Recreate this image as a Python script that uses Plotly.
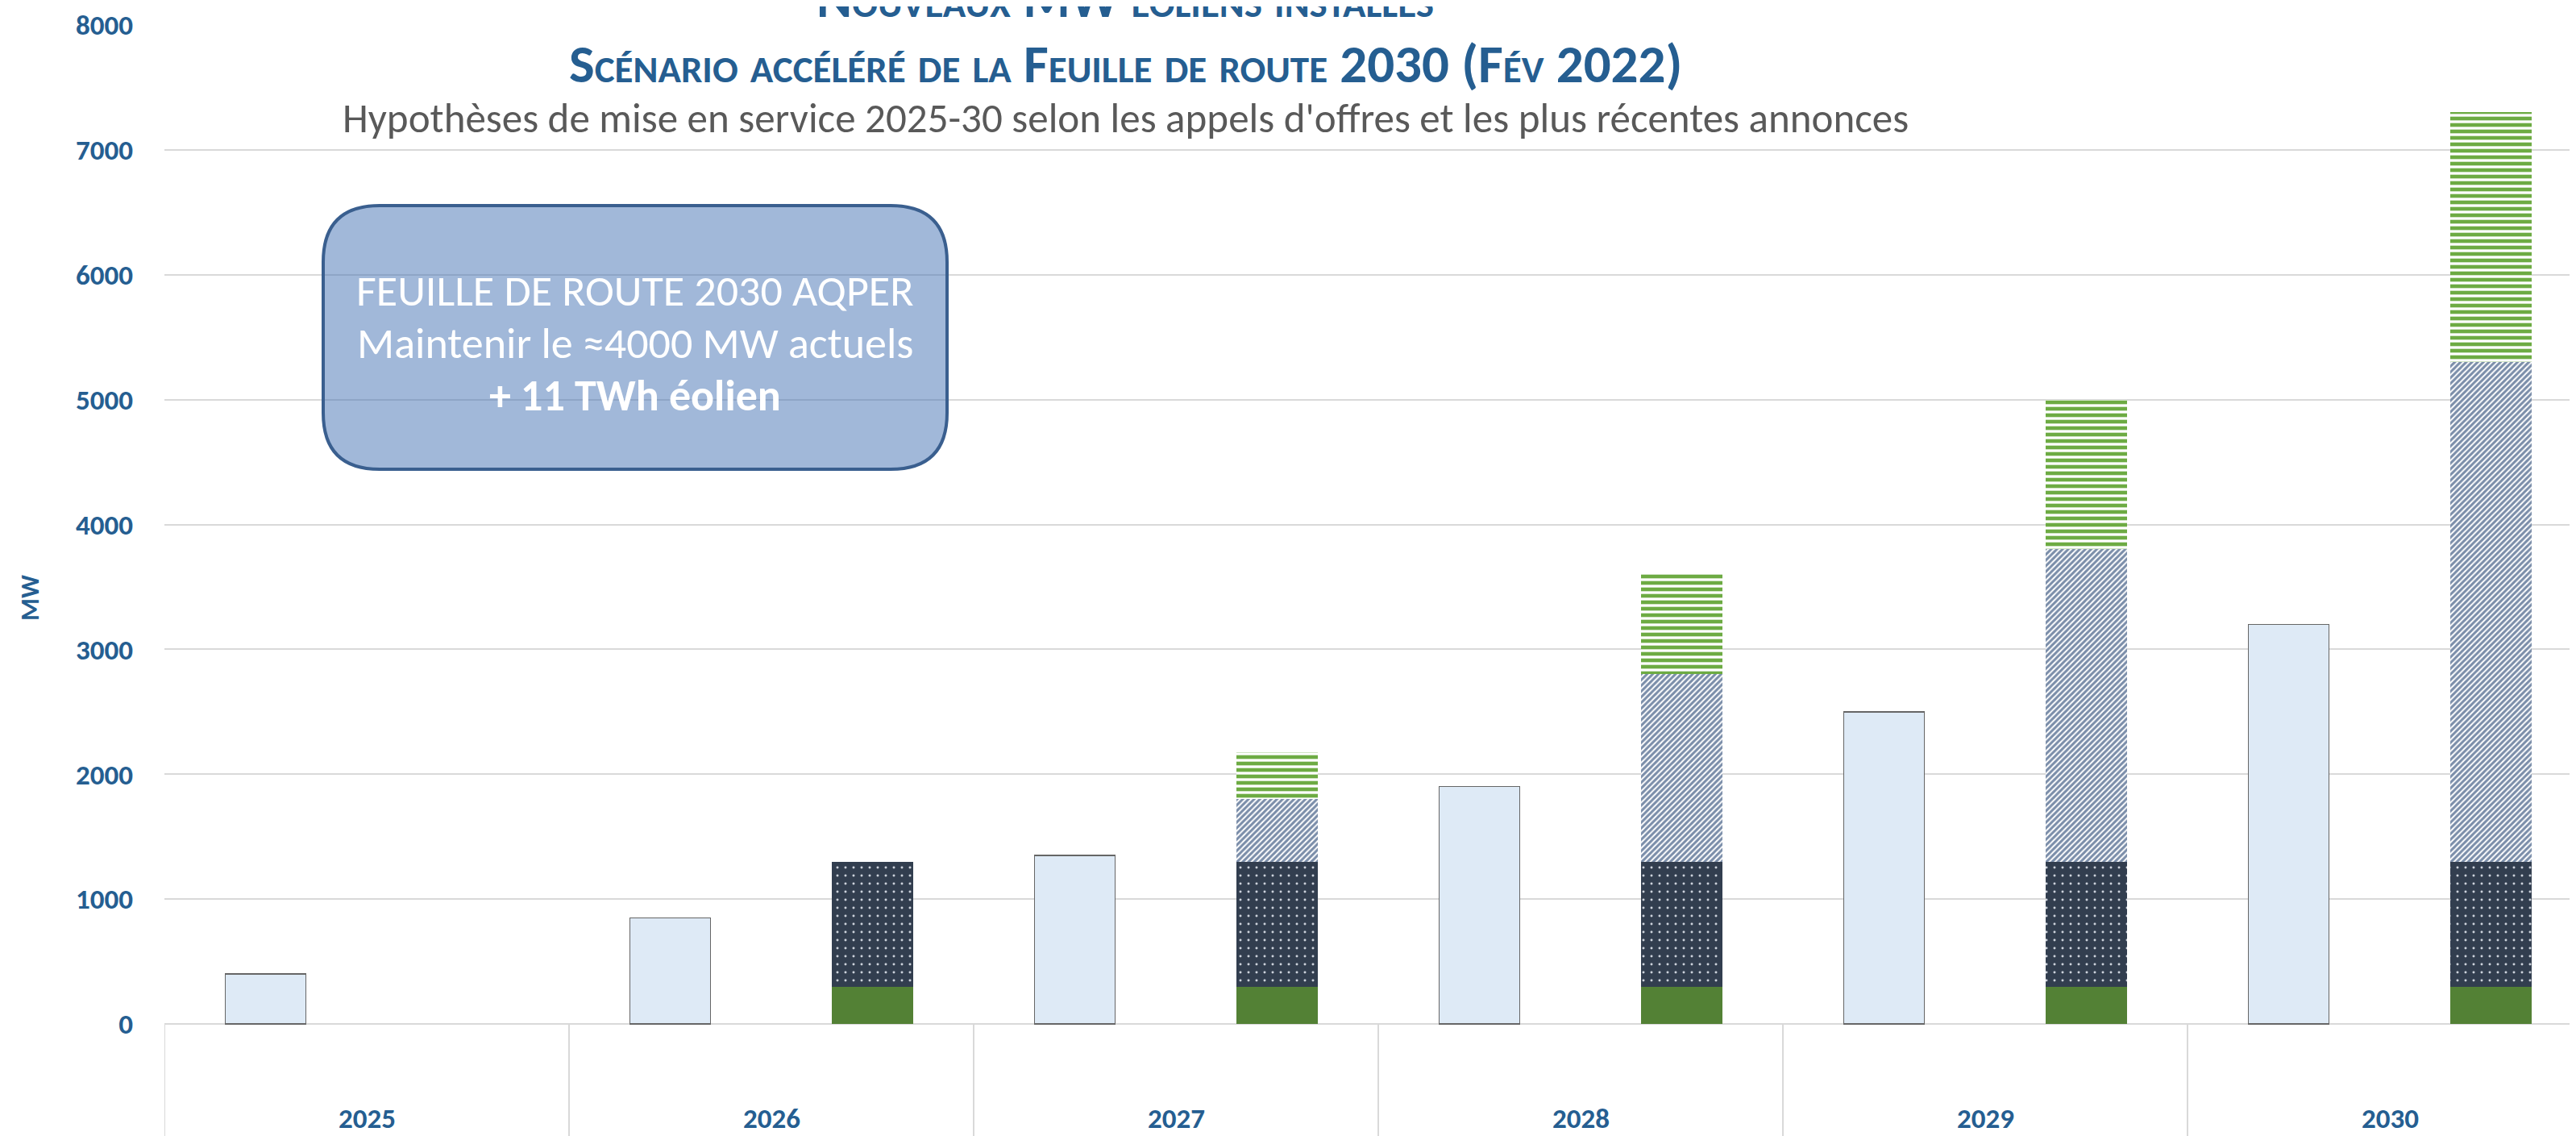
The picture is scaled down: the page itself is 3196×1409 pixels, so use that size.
import plotly.graph_objects as go

# ---------------- data ----------------
years = ["2025", "2026", "2027", "2028", "2029", "2030"]
scenario_ref = [400, 850, 1350, 1900, 2500, 3200]        # light blue bars
seg_green = [0, 300, 300, 300, 300, 300]                 # solid green base
seg_dots = [0, 1000, 1000, 1000, 1000, 1000]             # dark dotted
seg_hatch = [0, 0, 500, 1500, 2500, 4000]                # diagonal hatch
seg_stripes = [0, 0, 375, 800, 1200, 2000]               # green horizontal stripes
y_ticks = [0, 1000, 2000, 3000, 4000, 5000, 6000, 7000, 8000]
box_lines = ["FEUILLE DE ROUTE 2030 AQPER", "Maintenir le ≈4000 MW actuels", "<b>+ 11 TWh éolien</b>"]

# ---------------- layout geometry (screen pixels) ----------------
OFF = 8                       # default page margin of the html body
SW, SH = 3196, 1409           # screen size
W, H = SW - OFF, SH - OFF     # figure size
S_LEFT, S_TOP = 204, 31       # screen px of plot left edge / y=8000 line
S_ZERO = 1270                 # screen px of y=0
CAT_PX = 502                  # pixel width of one category
ML, MT, MR, MB = S_LEFT - OFF, S_TOP - OFF, 0, 0
PLOT_W = W - ML - MR
PLOT_H = H - MT - MB
px_per_unit = (S_ZERO - S_TOP) / y_ticks[-1]
y_min = -(SH - S_ZERO) / px_per_unit
x_range = [-0.5, -0.5 + PLOT_W / CAT_PX]


def pxx(sx):
    return (sx - S_LEFT) / PLOT_W


def pxy(sy):
    return (SH - sy) / PLOT_H


BLUE = "#255E91"
FONT = "Carlito, Calibri, Lato, sans-serif"
idx = list(range(len(years)))
xl = [i - 0.25 for i in idx]
xr = [i + 0.25 for i in idx]

fig = go.Figure()
fig.add_trace(go.Bar(x=xl, y=scenario_ref, width=0.2, name="Référence",
                     marker=dict(color="#DEEAF6", line=dict(color="#666666", width=1.5))))
fig.add_trace(go.Bar(x=xr, y=seg_green, width=0.2, name="base",
                     marker=dict(color="#538135", line=dict(width=0))))
fig.add_trace(go.Bar(x=xr, y=seg_dots, width=0.2, name="dots",
                     marker=dict(color="#333F50", line=dict(width=0),
                                 pattern=dict(shape=".", fgcolor="#CDD3DC", bgcolor="#323E4F",
                                              size=10, solidity=0.07, fgopacity=1))))
fig.add_trace(go.Bar(x=xr, y=seg_hatch, width=0.2, name="hatch",
                     marker=dict(color="#8497B0", line=dict(width=0),
                                 pattern=dict(shape="/", fgcolor="#7A8DA9", bgcolor="#FFFFFF",
                                              size=5, solidity=0.6, fgopacity=1))))
fig.add_trace(go.Bar(x=xr, y=seg_stripes, width=0.2, name="stripes",
                     marker=dict(color="#70AD47", line=dict(width=0),
                                 pattern=dict(shape="-", fgcolor="#6DAB43", bgcolor="#FFFFFF",
                                              size=8, solidity=0.58, fgopacity=1))))

# category dividers below the baseline
for b in range(len(years) + 1):
    fig.add_shape(type="line", xref="x", yref="y", x0=b - 0.5, x1=b - 0.5, y0=0, y1=y_min,
                  line=dict(color="#D9D9D9", width=2), layer="below")

# year labels
for i, yr in enumerate(years):
    fig.add_annotation(x=i, y=-(1387 - S_ZERO) / px_per_unit, xref="x", yref="y", text=yr,
                       showarrow=False, xanchor="center", yanchor="middle",
                       font=dict(family=FONT, size=35, color=BLUE, weight="bold"))

# rounded text box
bx0, bx1, by0, by1, rad = 401, 1175, 255, 582, 70
rx, ry = rad / PLOT_W, rad / PLOT_H
X0, X1, Y0, Y1 = pxx(bx0), pxx(bx1), pxy(by1), pxy(by0)
path = (f"M {X0+rx},{Y1} L {X1-rx},{Y1} Q {X1},{Y1} {X1},{Y1-ry} "
        f"L {X1},{Y0+ry} Q {X1},{Y0} {X1-rx},{Y0} L {X0+rx},{Y0} Q {X0},{Y0} {X0},{Y0+ry} "
        f"L {X0},{Y1-ry} Q {X0},{Y1} {X0+rx},{Y1} Z")
fig.add_shape(type="path", xref="paper", yref="paper", path=path,
              fillcolor="rgba(68,114,180,0.5)", line=dict(color="#3A5F8F", width=4))
for line, sy in zip(box_lines, [361, 426, 491]):
    fig.add_annotation(x=pxx((bx0 + bx1) / 2), y=pxy(sy), xref="paper", yref="paper",
                       xanchor="center", yanchor="middle", text=line, showarrow=False,
                       font=dict(family=FONT, size=54, color="white"))

# titles
TX = 1396
fig.add_annotation(x=pxx(TX), y=pxy(-2), xref="paper", yref="paper", xanchor="center", yanchor="middle",
                   text="Nouveaux MW éoliens installés", showarrow=False,
                   font=dict(family=FONT, size=67, color=BLUE, weight="bold", variant="small-caps"))
fig.add_annotation(x=pxx(TX), y=pxy(79), xref="paper", yref="paper", xanchor="center", yanchor="middle",
                   text="Scénario accéléré de la Feuille de route 2030 (Fév 2022)", showarrow=False,
                   font=dict(family=FONT, size=67, color=BLUE, weight="bold", variant="small-caps"))
fig.add_annotation(x=pxx(TX), y=pxy(146), xref="paper", yref="paper", xanchor="center", yanchor="middle",
                   text="Hypothèses de mise en service 2025-30 selon les appels d'offres et les plus récentes annonces",
                   showarrow=False, font=dict(family=FONT, size=51, color="#595959"))
fig.add_annotation(x=pxx(37), y=pxy(742), xref="paper", yref="paper", text="MW", textangle=-90,
                   xanchor="center", yanchor="middle",
                   showarrow=False, font=dict(family=FONT, size=32, color=BLUE, weight="bold"))

fig.update_layout(
    width=W, height=H, margin=dict(l=ML, r=MR, t=MT, b=MB, pad=0),
    paper_bgcolor="white", plot_bgcolor="white", barmode="stack", showlegend=False,
    xaxis=dict(range=x_range, showgrid=False, zeroline=False, showticklabels=False,
               showline=False, ticks=""),
    yaxis=dict(range=[y_min, y_ticks[-1]], tickvals=y_ticks, ticktext=[str(v) for v in y_ticks],
               showgrid=True, gridcolor="#D9D9D9", gridwidth=2, zeroline=False, showline=False,
               ticks="", ticklabelstandoff=38,
               tickfont=dict(family=FONT, size=35, color=BLUE, weight="bold")),
)

fig.write_html("out.html")
